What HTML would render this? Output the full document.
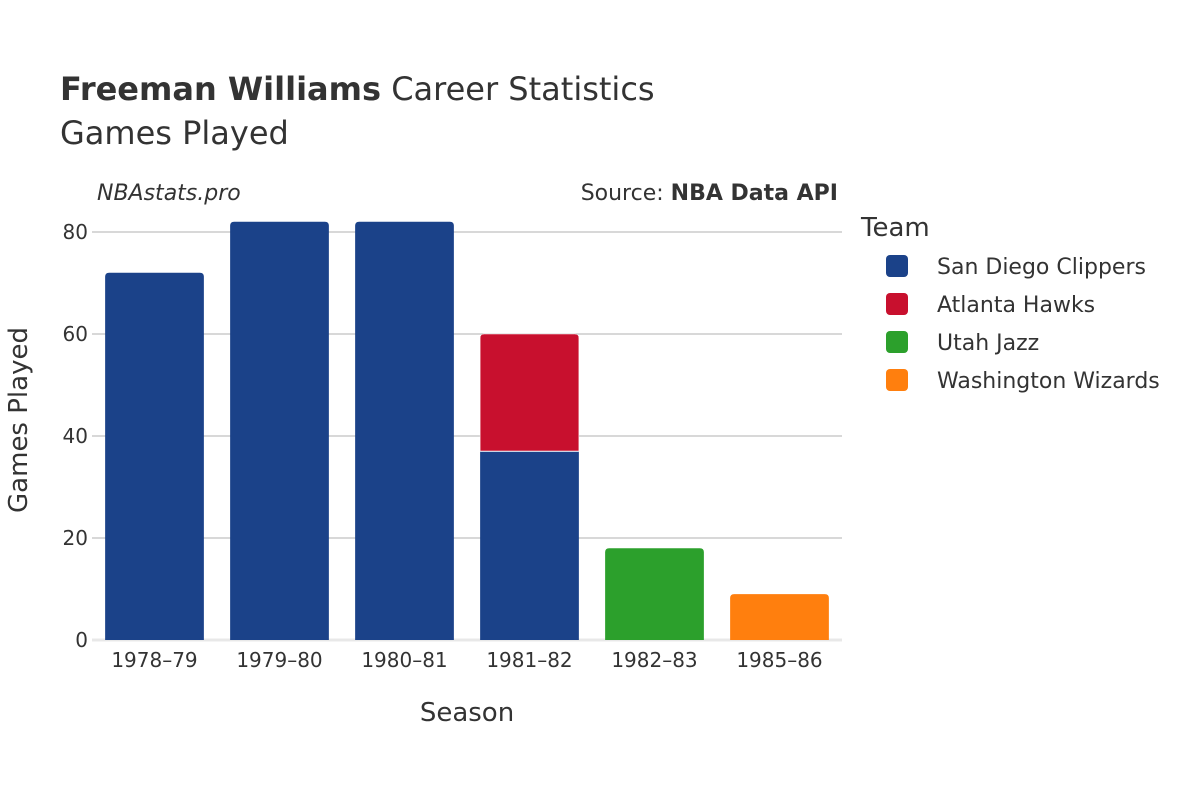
<!DOCTYPE html>
<html><head><meta charset="utf-8"><style>
body{margin:0;background:#fff;}
svg text{font-family:"DejaVu Sans","Liberation Sans",sans-serif;fill:#333;}
</style></head><body>
<svg id="chart" width="1200" height="800" viewBox="0 0 1200 800">
<text x="60" y="100" font-size="32"><tspan font-weight="bold">Freeman Williams</tspan> Career Statistics</text>
<text x="60" y="144" font-size="32">Games Played</text>
<text x="97" y="200" font-size="22" font-style="italic">NBAstats.pro</text>
<text x="838" y="200" font-size="22" text-anchor="end">Source: <tspan font-weight="bold">NBA Data API</tspan></text>
<g id="grid"></g>
<g id="bars"></g>
<g id="xticks"></g>
<text x="467" y="721" font-size="26" text-anchor="middle">Season</text>
<text x="0" y="0" font-size="26" text-anchor="middle" transform="translate(27,420) rotate(-90)">Games Played</text>
<text x="861" y="236" font-size="26">Team</text>
<g id="legend"></g>
</svg>
<script>
const seasons=["1978–79","1979–80","1980–81","1981–82","1982–83","1985–86"];
const teams=["San Diego Clippers","Atlanta Hawks","Utah Jazz","Washington Wizards"];
const colors=["#1b4289","#c8102e","#2ca02c","#ff7f0e"];
const clippers=[72,82,82,37,0,0];
const hawks=[0,0,0,23,0,0];
const jazz=[0,0,0,0,18,0];
const wizards=[0,0,0,0,0,9];
const yTicks=[0,20,40,60,80];
const series=[clippers,hawks,jazz,wizards];
const NS="http://www.w3.org/2000/svg";
const x0=92,x1=842,yBase=640,yTop=232,yMax=80;
const y=v=>yBase-(v/yMax)*(yBase-yTop);
const step=(x1-x0)/seasons.length, bw=step*0.79;
const xc=i=>x0+step*(i+0.5);
function mk(t,a){const e=document.createElementNS(NS,t);for(const k in a)e.setAttribute(k,a[k]);return e;}
const grid=document.getElementById('grid');
yTicks.forEach(t=>{
 const l=mk('line',{x1:x0,x2:x1,y1:y(t),y2:y(t),stroke:t===0?'#e8e8e8':'#b0b0b0','stroke-width':t===0?3:1});
 
 
 grid.appendChild(l);
 const tx=mk('text',{x:x0-4,y:y(t)+7,'font-size':20,'text-anchor':'end'});tx.textContent=t;
 
 
 grid.appendChild(tx);
});
const bars=document.getElementById('bars');
seasons.forEach((s,i)=>{
 let cum=0;let last=-1;series.forEach((sr,k)=>{if(sr[i]>0)last=k;});
 series.forEach((sr,k)=>{
  const v=sr[i];if(!v)return;
  const yt=y(cum+v),yb=y(cum),xl=xc(i)-bw/2,r=k===last?4:0;
  const d=`M${xl},${yb}V${yt+r}Q${xl},${yt} ${xl+r},${yt}H${xl+bw-r}Q${xl+bw},${yt} ${xl+bw},${yt+r}V${yb}Z`;
  const p=mk('path',{d:d,fill:colors[k],stroke:'#fff','stroke-width':cum>0?0.5:0});
  
  
  bars.appendChild(p);
  if(cum>0){const sl=mk('line',{x1:xl,x2:xl+bw,y1:yb,y2:yb,stroke:'#fff','stroke-width':1});
   
   
   bars.appendChild(sl);}
  cum+=v;
 });
});
const xt=document.getElementById('xticks');
seasons.forEach((s,i)=>{
 const t=mk('text',{x:xc(i),y:667,'font-size':20,'text-anchor':'middle'});t.textContent=s;
 
 
 xt.appendChild(t);
});
const lg=document.getElementById('legend');
teams.forEach((tm,k)=>{
 const yy=266+k*38;
 const r=mk('rect',{x:886,y:yy-11,width:22,height:22,rx:4,fill:colors[k]});
 
 
 lg.appendChild(r);
 const t=mk('text',{x:937,y:yy+8,'font-size':22});t.textContent=tm;
 
 
 lg.appendChild(t);
});
</script>
</body></html>
